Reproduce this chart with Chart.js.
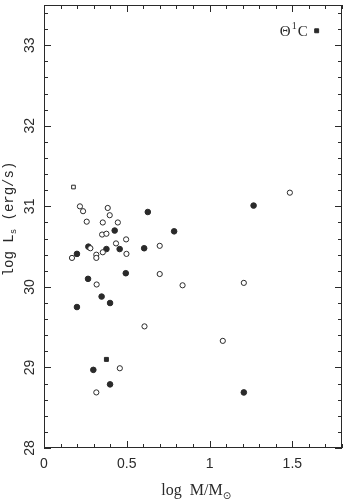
<!DOCTYPE html>
<html>
<head>
<meta charset="utf-8">
<script src="https://cdn.jsdelivr.net/npm/chart.js@4"></script>
<style>
  body { margin: 0; background: #fff; }
  #wrap { width: 347px; height: 501px; }
</style>
</head>
<body>
<div id="wrap"><canvas id="chart_xray"></canvas></div>
<script>
// log M/Msun vs log Lx
var openX = [0.217, 0.236, 0.258, 0.355, 0.385, 0.397, 0.446, 0.351, 0.377, 0.496, 0.435, 0.699, 0.355,
  0.316, 0.316, 0.169, 0.498, 0.699, 0.318, 0.837, 1.207, 1.485, 0.607, 1.080, 0.458, 0.316, 0.280];
var openY = [31.00, 30.94, 30.81, 30.80, 30.98, 30.89, 30.80, 30.65, 30.66, 30.59, 30.54, 30.51, 30.43,
  30.40, 30.36, 30.36, 30.41, 30.16, 30.03, 30.02, 30.05, 31.17, 29.51, 29.33, 28.99, 28.69, 30.48];
var openSqX = [0.178];
var openSqY = [31.24];
var filledX = [0.627, 0.786, 1.266, 0.427, 0.268, 0.199, 0.377, 0.457, 0.605, 0.494, 0.266, 0.348,
  0.399, 0.199, 0.298, 0.399, 1.207];
var filledY = [30.93, 30.69, 31.01, 30.70, 30.50, 30.41, 30.47, 30.47, 30.48, 30.17, 30.10, 29.88,
  29.80, 29.75, 28.97, 28.79, 28.69];
var filledSqX = [1.647, 0.377];
var filledSqY = [33.18, 29.10];

var xTicks = [0, 0.5, 1, 1.5];
var xTickLabels = ['0', '0.5', '1', '1.5'];
var yTicks = [28, 29, 30, 31, 32, 33];
var yTickLabels = ['28', '29', '30', '31', '32', '33'];

var ink = '#2a2a2a';

function toPoints(xs, ys) {
  let pts = [];
  for (let i = 0; i < xs.length; i++) {
    pts.push({ x: xs[i], y: ys[i] });
  }
  return pts;
}

// frame with inward ticks on all four sides, plus the text
var framePlugin = {
  id: 'frame',
  afterDraw: function(chart) {
    let ctx = chart.ctx;
    let a = chart.chartArea;
    let xs = chart.scales.x;
    let ys = chart.scales.y;
    ctx.save();
    ctx.strokeStyle = ink;
    ctx.lineWidth = 1;
    ctx.strokeRect(a.left + 0.5, a.top + 0.5, a.right - a.left - 1, a.bottom - a.top - 1);

    ctx.beginPath();
    for (let v = 0; v <= 1.8001; v += 0.1) {
      let px = Math.round(xs.getPixelForValue(v)) + 0.5;
      let major = Math.abs(v * 2 - Math.round(v * 2)) < 0.001;
      let len = major ? 7 : 4;
      ctx.moveTo(px, a.bottom);
      ctx.lineTo(px, a.bottom - len);
      ctx.moveTo(px, a.top);
      ctx.lineTo(px, a.top + len);
    }
    for (let v = 28; v <= 33.5001; v += 0.2) {
      let py = Math.round(ys.getPixelForValue(v)) + 0.5;
      let major = Math.abs(v - Math.round(v)) < 0.001;
      let len = major ? 7 : 4;
      ctx.moveTo(a.left, py);
      ctx.lineTo(a.left + len, py);
      ctx.moveTo(a.right, py);
      ctx.lineTo(a.right - len, py);
    }
    ctx.stroke();

    ctx.fillStyle = ink;
    ctx.font = '14px "Liberation Sans", sans-serif';
    ctx.textAlign = 'center';
    ctx.textBaseline = 'middle';
    for (let i = 0; i < xTicks.length; i++) {
      ctx.fillText(xTickLabels[i], xs.getPixelForValue(xTicks[i]), a.bottom + 16);
    }
    for (let i = 0; i < yTicks.length; i++) {
      ctx.save();
      ctx.translate(a.left - 14, ys.getPixelForValue(yTicks[i]));
      ctx.rotate(-Math.PI / 2);
      ctx.fillText(yTickLabels[i], 0, 0);
      ctx.restore();
    }

    // x title: log M/M_sun
    ctx.font = '16px "Liberation Serif", serif';
    ctx.textAlign = 'left';
    ctx.textBaseline = 'alphabetic';
    let t = 'log  M/M';
    let w = ctx.measureText(t).width;
    let tx = 196 - (w + 8) / 2;
    ctx.fillText(t, tx, 495);
    ctx.font = '10px "DejaVu Sans", sans-serif';
    ctx.fillText('\u2299', tx + w, 499);

    // y title: log L_s (erg/s)
    ctx.save();
    ctx.translate(13, 219);
    ctx.rotate(-Math.PI / 2);
    ctx.font = '14px "Liberation Mono", monospace';
    let p1 = 'log L';
    let w1 = ctx.measureText(p1).width;
    ctx.font = '9px "Liberation Mono", monospace';
    let w2 = ctx.measureText('s').width;
    ctx.font = '14px "Liberation Mono", monospace';
    let p3 = ' (erg/s)';
    let w3 = ctx.measureText(p3).width;
    let sx = -(w1 + w2 + w3) / 2;
    ctx.fillText(p1, sx, 0);
    ctx.fillText(p3, sx + w1 + w2, 0);
    ctx.font = '9px "Liberation Mono", monospace';
    ctx.fillText('s', sx + w1, 3);
    ctx.restore();

    // Theta1 C label next to its point
    let lx = xs.getPixelForValue(filledSqX[0]) - 9;
    let ly = ys.getPixelForValue(filledSqY[0]) + 5;
    ctx.font = '15px "Liberation Serif", serif';
    ctx.textAlign = 'right';
    ctx.fillText('C', lx, ly);
    let cw = ctx.measureText('C').width;
    ctx.font = '10px "Liberation Serif", serif';
    ctx.fillText('1', lx - cw - 1, ly - 7);
    let ow = ctx.measureText('1').width;
    ctx.font = '15px "Liberation Serif", serif';
    ctx.fillText('\u0398', lx - cw - ow - 2, ly);
    ctx.restore();
  }
};

new Chart(document.getElementById('chart_xray'), {
  type: 'scatter',
  data: {
    datasets: [{
      label: 'open',
      data: toPoints(openX, openY),
      pointStyle: 'circle',
      pointRadius: 2.6,
      borderWidth: 1,
      borderColor: ink,
      backgroundColor: '#fff'
    }, {
      label: 'open square',
      data: toPoints(openSqX, openSqY),
      pointStyle: 'rect',
      pointRadius: 2.6,
      borderWidth: 1,
      borderColor: ink,
      backgroundColor: '#fff'
    }, {
      label: 'filled',
      data: toPoints(filledX, filledY),
      pointStyle: 'circle',
      pointRadius: 2.8,
      borderWidth: 1,
      borderColor: ink,
      backgroundColor: ink
    }, {
      label: 'filled square',
      data: toPoints(filledSqX, filledSqY),
      pointStyle: 'rect',
      pointRadius: 2.8,
      borderWidth: 1,
      borderColor: ink,
      backgroundColor: ink
    }]
  },
  options: {
    responsive: true,
    maintainAspectRatio: false,
    animation: false,
    layout: { padding: { top: 0, right: 1, left: 0, bottom: 0 } },
    plugins: {
      legend: { display: false },
      tooltip: { enabled: false }
    },
    scales: {
      x: {
        type: 'linear',
        min: 0,
        max: 1.8,
        ticks: { display: false },
        grid: { display: false },
        border: { display: false },
        afterFit: function(s) { s.height = 53; }
      },
      y: {
        type: 'linear',
        min: 28,
        max: 33.5,
        ticks: { display: false },
        grid: { display: false },
        border: { display: false },
        afterFit: function(s) { s.width = 44; }
      }
    }
  },
  plugins: [framePlugin]
});
</script>
</body>
</html>
